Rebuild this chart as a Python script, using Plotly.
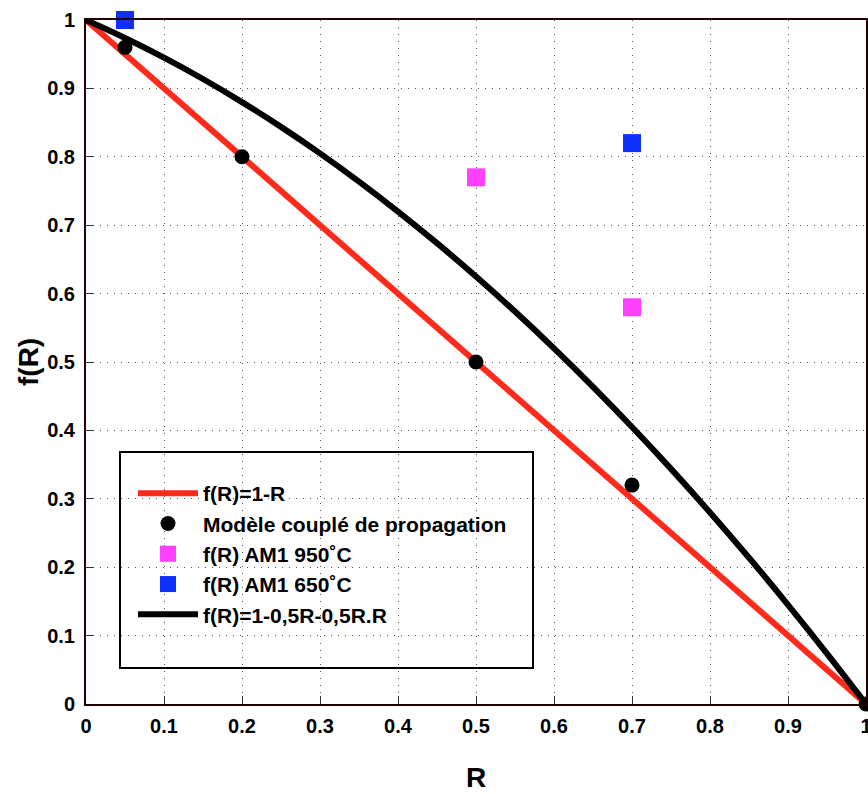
import plotly.graph_objects as go

# Data
r_line = [0, 1]
f_line = [1, 0]

r_model = [0.05, 0.2, 0.5, 0.7, 1.0]
f_model = [0.96, 0.80, 0.50, 0.32, 0.0]

r_950 = [0.5, 0.7]
f_950 = [0.77, 0.58]

r_650 = [0.05, 0.7]
f_650 = [1.0, 0.82]

r_curve = [0, 0.05, 0.1, 0.15, 0.2, 0.25, 0.3, 0.35, 0.4, 0.45, 0.5,
           0.55, 0.6, 0.65, 0.7, 0.75, 0.8, 0.85, 0.9, 0.95, 1.0]
f_curve = [1.0, 0.97375, 0.945, 0.91375, 0.88, 0.84375, 0.805, 0.76375, 0.72, 0.67375, 0.625,
           0.57375, 0.52, 0.46375, 0.405, 0.34375, 0.28, 0.21375, 0.145, 0.07375, 0.0]

tick_vals = [0, 0.1, 0.2, 0.3, 0.4, 0.5, 0.6, 0.7, 0.8, 0.9, 1]
tick_text = ["0", "0.1", "0.2", "0.3", "0.4", "0.5", "0.6", "0.7", "0.8", "0.9", "1"]

FONT = "Liberation Sans"
W, H = 868, 794
L, R, T, B = 86, 2, 20, 90
PW, PH = W - L - R, H - T - B
X0, Y0 = L, T + PH  # screen pixels of plot origin

fig = go.Figure()
fig.add_trace(go.Scatter(x=r_line, y=f_line, mode="lines", name="<b>f(R)=1-R</b>",
                         line=dict(color="#ff2a1a", width=6), cliponaxis=False))
fig.add_trace(go.Scatter(x=r_model, y=f_model, mode="markers", name="<b>Modèle couplé de propagation</b>",
                         marker=dict(color="black", size=15, symbol="circle"), cliponaxis=False))
fig.add_trace(go.Scatter(x=r_950, y=f_950, mode="markers", name="<b>f(R) AM1 950˚C</b>",
                         marker=dict(color="#ff40ff", size=18, symbol="square"), cliponaxis=False))
fig.add_trace(go.Scatter(x=r_650, y=f_650, mode="markers", name="<b>f(R) AM1 650˚C</b>",
                         marker=dict(color="#1030ff", size=18, symbol="square"), cliponaxis=False))
fig.add_trace(go.Scatter(x=r_curve, y=f_curve, mode="lines", name="<b>f(R)=1-0,5R-0,5R.R</b>",
                         line=dict(color="black", width=6, shape="spline"), cliponaxis=False))

axis_common = dict(
    range=[0, 1], tickvals=tick_vals, ticktext=tick_text,
    showgrid=True, gridcolor="#555555", griddash="1px,6px", gridwidth=1,
    showline=True, linecolor="#200000", linewidth=2, mirror=True,
    ticks="inside", ticklen=8, tickcolor="#333333",
    tickfont=dict(family=FONT, size=20, color="black", weight="bold"),
    zeroline=False, automargin=False, ticklabeloverflow="allow",
)

fig.update_layout(
    width=W, height=H,
    margin=dict(l=L, r=R, t=T, b=B),
    paper_bgcolor="white", plot_bgcolor="white",
    font=dict(family=FONT, color="black"),
    xaxis=dict(**axis_common, ticklabelstandoff=3),
    yaxis=dict(**axis_common, ticklabelstandoff=5),
    legend=dict(x=(133 - X0) / PW, y=(Y0 - 473) / PH, xanchor="left", yanchor="top",
                bgcolor="rgba(0,0,0,0)", borderwidth=0,
                font=dict(family=FONT, size=21, color="black"),
                itemwidth=60, tracegroupgap=0),
    shapes=[dict(type="rect", xref="paper", yref="paper",
                 x0=(120 - X0) / PW, x1=(533 - X0) / PW,
                 y0=(Y0 - 668) / PH, y1=(Y0 - 452) / PH,
                 line=dict(color="black", width=2), fillcolor="white", layer="below")],
    annotations=[
        dict(text="<b>R</b>", xref="paper", yref="paper", x=0.5, y=-(777 - Y0) / PH,
             xanchor="center", yanchor="middle", showarrow=False,
             font=dict(family=FONT, size=28, color="black")),
        dict(text="<b>f(R)</b>", xref="paper", yref="paper", x=-(X0 - 28) / PW, y=0.5,
             xanchor="center", yanchor="middle", showarrow=False, textangle=-90,
             font=dict(family=FONT, size=28, color="black")),
    ],
    showlegend=True,
)

fig.write_html(
    "out.html",
    config={"displayModeBar": False},
    post_script="document.body.style.margin='0';document.body.style.overflow='hidden';",
)
